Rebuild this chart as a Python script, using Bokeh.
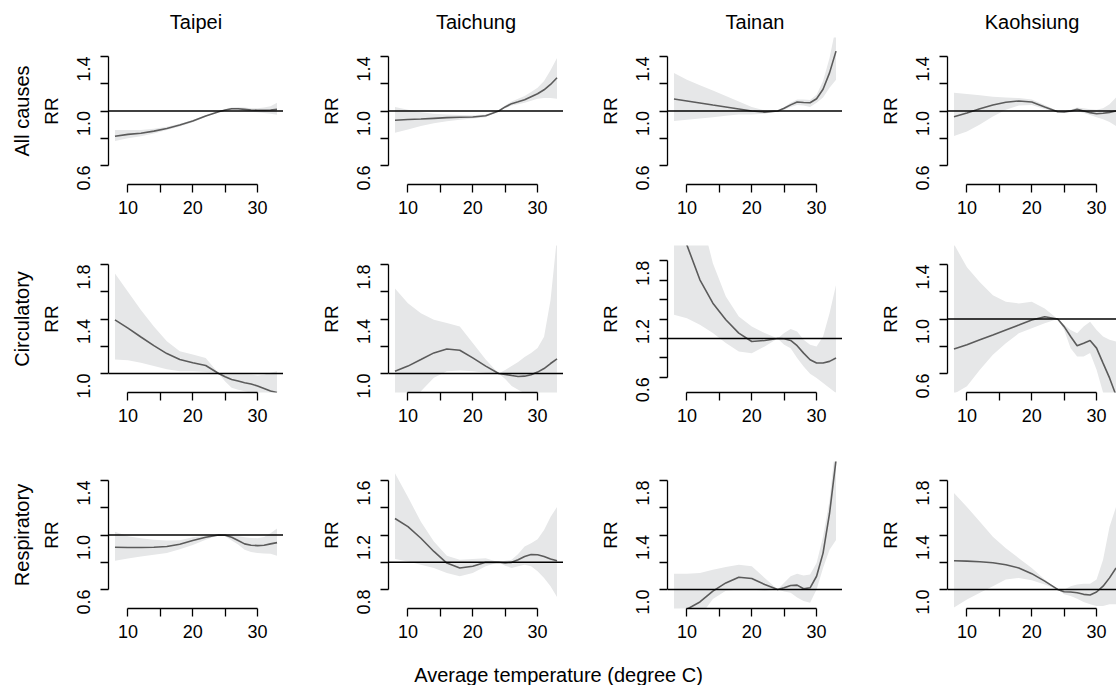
import math
from bokeh.plotting import figure
from bokeh.models import Range1d, FixedTicker, Span, Title
from bokeh.layouts import column, row
from bokeh.embed import file_html
from bokeh.resources import INLINE

# ---------------- data ----------------
TEMP = [8, 10, 12, 14, 16, 18, 20, 22, 24, 25, 26, 27, 28, 29, 30, 31, 32, 33]
CITIES = ["Taipei", "Taichung", "Tainan", "Kaohsiung"]
CAUSES = ["All causes", "Circulatory", "Respiratory"]
X_TICKS = [10, 15, 20, 25, 30]
X_TICK_LABELS = ["10", "", "20", "", "30"]
X_LABEL = "Average temperature (degree C)"
Y_LABEL = "RR"
REF_RR = 1.0

taipei_all_rr = [0.815, 0.828, 0.837, 0.852, 0.872, 0.897, 0.926, 0.963, 0.995, 1.007, 1.017, 1.017, 1.012, 1.007, 1.005, 1.005, 1.007, 1.012]
taipei_all_hi = [0.86, 0.86, 0.86, 0.87, 0.885, 0.907, 0.934, 0.968, 0.997, 1.012, 1.025, 1.028, 1.025, 1.02, 1.02, 1.025, 1.035, 1.06]
taipei_all_lo = [0.78, 0.80, 0.815, 0.835, 0.86, 0.887, 0.918, 0.958, 0.993, 1.002, 1.008, 1.006, 1.0, 0.995, 0.99, 0.985, 0.98, 0.972]

taichung_all_rr = [0.932, 0.937, 0.941, 0.946, 0.951, 0.954, 0.956, 0.965, 1.0, 1.03, 1.054, 1.068, 1.083, 1.105, 1.127, 1.156, 1.195, 1.244]
taichung_all_hi = [1.03, 1.01, 0.99, 0.98, 0.975, 0.97, 0.968, 0.975, 1.0, 1.04, 1.07, 1.09, 1.11, 1.14, 1.17, 1.22, 1.3, 1.39]
taichung_all_lo = [0.84, 0.865, 0.89, 0.91, 0.925, 0.935, 0.944, 0.955, 1.0, 1.02, 1.04, 1.05, 1.06, 1.075, 1.09, 1.095, 1.095, 1.09]

tainan_all_rr = [1.088, 1.074, 1.059, 1.044, 1.03, 1.015, 1.0, 0.992, 1.0, 1.02, 1.045, 1.066, 1.063, 1.061, 1.09, 1.16, 1.28, 1.44]
tainan_all_hi = [1.28, 1.23, 1.19, 1.15, 1.11, 1.07, 1.03, 1.005, 1.0, 1.03, 1.06, 1.085, 1.085, 1.08, 1.12, 1.22, 1.39, 1.62]
tainan_all_lo = [0.926, 0.935, 0.945, 0.955, 0.965, 0.975, 0.975, 0.98, 1.0, 1.01, 1.03, 1.045, 1.04, 1.03, 1.06, 1.1, 1.17, 1.23]

kaohsiung_all_rr = [0.958, 0.985, 1.017, 1.044, 1.064, 1.074, 1.066, 1.03, 0.995, 0.993, 1.0, 1.012, 1.0, 0.988, 0.98, 0.983, 0.99, 1.0]
kaohsiung_all_hi = [1.135, 1.125, 1.115, 1.105, 1.1, 1.095, 1.085, 1.045, 1.0, 0.998, 1.01, 1.025, 1.02, 1.012, 1.01, 1.02, 1.05, 1.1]
kaohsiung_all_lo = [0.816, 0.85, 0.9, 0.96, 1.01, 1.04, 1.045, 1.015, 0.99, 0.988, 0.99, 1.0, 0.985, 0.97, 0.955, 0.94, 0.92, 0.89]

taipei_circ_rr = [1.394, 1.333, 1.268, 1.204, 1.146, 1.102, 1.078, 1.058, 1.0, 0.976, 0.956, 0.944, 0.932, 0.922, 0.908, 0.89, 0.871, 0.859]
taipei_circ_hi = [1.735, 1.6, 1.467, 1.345, 1.236, 1.163, 1.139, 1.114, 1.0, 0.99, 0.993, 0.993, 0.993, 0.99, 0.985, 0.99, 1.005, 1.017]
taipei_circ_lo = [1.102, 1.097, 1.078, 1.054, 1.03, 1.017, 1.017, 1.01, 1.0, 0.94, 0.895, 0.88, 0.87, 0.86, 0.84, 0.82, 0.8, 0.78]

taichung_circ_rr = [1.017, 1.054, 1.102, 1.151, 1.18, 1.17, 1.114, 1.054, 1.0, 0.993, 0.985, 0.978, 0.98, 0.99, 1.01, 1.036, 1.073, 1.107]
taichung_circ_hi = [1.625, 1.516, 1.443, 1.394, 1.37, 1.345, 1.224, 1.102, 1.0, 1.025, 1.054, 1.085, 1.12, 1.15, 1.187, 1.27, 1.54, 2.0]
taichung_circ_lo = [0.6, 0.7, 0.87, 0.968, 1.017, 1.022, 1.017, 1.005, 1.0, 0.96, 0.908, 0.88, 0.855, 0.83, 0.8, 0.78, 0.75, 0.72]

tainan_circ_rr = [2.45, 1.96, 1.603, 1.363, 1.192, 1.055, 0.969, 0.979, 1.0, 0.997, 0.979, 0.925, 0.849, 0.781, 0.747, 0.747, 0.764, 0.798]
tainan_circ_hi = [3.2, 2.9, 2.3, 1.774, 1.432, 1.226, 1.123, 1.055, 1.0, 1.055, 1.096, 1.072, 0.986, 0.935, 0.918, 1.02, 1.26, 1.55]
tainan_circ_lo = [1.243, 1.209, 1.14, 1.055, 0.952, 0.866, 0.849, 0.918, 1.0, 0.935, 0.9, 0.798, 0.712, 0.637, 0.592, 0.541, 0.49, 0.44]

kaohsiung_circ_rr = [0.779, 0.81, 0.847, 0.883, 0.92, 0.956, 0.993, 1.017, 1.0, 0.944, 0.871, 0.803, 0.822, 0.842, 0.786, 0.676, 0.567, 0.44]
kaohsiung_circ_hi = [1.55, 1.38, 1.27, 1.175, 1.127, 1.114, 1.127, 1.078, 1.0, 0.956, 0.92, 0.895, 0.944, 0.98, 0.92, 0.871, 0.847, 0.835]
kaohsiung_circ_lo = [0.45, 0.506, 0.628, 0.737, 0.822, 0.895, 0.932, 0.968, 1.0, 0.92, 0.786, 0.725, 0.725, 0.75, 0.628, 0.46, 0.35, 0.25]

taipei_resp_rr = [0.91, 0.908, 0.908, 0.91, 0.915, 0.932, 0.959, 0.983, 1.0, 0.998, 0.983, 0.959, 0.935, 0.925, 0.922, 0.925, 0.935, 0.944]
taipei_resp_hi = [1.024, 0.99, 0.976, 0.966, 0.959, 0.962, 0.983, 0.995, 1.0, 1.005, 1.0, 0.992, 0.983, 0.978, 0.976, 0.985, 1.012, 1.048]
taipei_resp_lo = [0.811, 0.828, 0.842, 0.855, 0.867, 0.895, 0.927, 0.965, 1.0, 0.99, 0.96, 0.93, 0.891, 0.875, 0.867, 0.865, 0.862, 0.847]

taichung_resp_rr = [1.321, 1.261, 1.176, 1.079, 0.994, 0.958, 0.97, 0.999, 1.0, 0.994, 0.999, 1.018, 1.042, 1.057, 1.055, 1.042, 1.023, 1.011]
taichung_resp_hi = [1.653, 1.479, 1.297, 1.152, 1.047, 1.018, 1.023, 1.03, 1.0, 1.01, 1.018, 1.06, 1.115, 1.139, 1.168, 1.236, 1.333, 1.406]
taichung_resp_lo = [1.023, 1.006, 0.982, 0.958, 0.921, 0.897, 0.921, 0.97, 1.0, 0.975, 0.958, 0.97, 0.982, 0.97, 0.933, 0.885, 0.824, 0.744]

tainan_resp_rr = [0.78, 0.855, 0.908, 0.988, 1.048, 1.09, 1.08, 1.036, 1.0, 1.012, 1.029, 1.032, 1.005, 1.012, 1.097, 1.267, 1.558, 1.95]
tainan_resp_hi = [1.116, 1.116, 1.121, 1.145, 1.165, 1.182, 1.17, 1.085, 1.0, 1.05, 1.097, 1.116, 1.102, 1.109, 1.194, 1.388, 1.655, 2.1]
tainan_resp_lo = [0.6, 0.65, 0.8, 0.93, 0.99, 1.0, 1.0, 0.99, 1.0, 0.985, 0.976, 0.94, 0.915, 0.903, 1.0, 1.158, 1.291, 1.364]

kaohsiung_resp_rr = [1.211, 1.208, 1.204, 1.196, 1.182, 1.158, 1.116, 1.061, 1.0, 0.983, 0.981, 0.976, 0.964, 0.959, 0.981, 1.024, 1.085, 1.158]
kaohsiung_resp_hi = [1.708, 1.606, 1.497, 1.388, 1.303, 1.23, 1.158, 1.073, 1.0, 1.0, 1.024, 1.036, 1.041, 1.041, 1.073, 1.218, 1.461, 1.606]
kaohsiung_resp_lo = [0.867, 0.927, 0.976, 1.024, 1.073, 1.085, 1.068, 1.036, 1.0, 0.965, 0.952, 0.932, 0.908, 0.891, 0.879, 0.879, 0.891, 0.891]

# y-axis settings: (limits, ticks, tick labels)
Y_AXIS_A = ((0.5, 1.5), [0.6, 0.8, 1.0, 1.2, 1.4], ["0.6", "", "1.0", "", "1.4"])
Y_AXIS_B = ((0.9, 1.9), [1.0, 1.2, 1.4, 1.6, 1.8], ["1.0", "", "1.4", "", "1.8"])
Y_AXIS_C = ((0.5, 1.9), [0.6, 0.8, 1.0, 1.2, 1.4, 1.6, 1.8], ["0.6", "", "", "1.2", "", "", "1.8"])
Y_AXIS_D = ((0.7, 1.7), [0.8, 1.0, 1.2, 1.4, 1.6], ["0.8", "", "1.2", "", "1.6"])
X_LIMITS = (8, 33)

PANELS = [
    [(taipei_all_rr, taipei_all_lo, taipei_all_hi, Y_AXIS_A),
     (taichung_all_rr, taichung_all_lo, taichung_all_hi, Y_AXIS_A),
     (tainan_all_rr, tainan_all_lo, tainan_all_hi, Y_AXIS_A),
     (kaohsiung_all_rr, kaohsiung_all_lo, kaohsiung_all_hi, Y_AXIS_A)],
    [(taipei_circ_rr, taipei_circ_lo, taipei_circ_hi, Y_AXIS_B),
     (taichung_circ_rr, taichung_circ_lo, taichung_circ_hi, Y_AXIS_B),
     (tainan_circ_rr, tainan_circ_lo, tainan_circ_hi, Y_AXIS_C),
     (kaohsiung_circ_rr, kaohsiung_circ_lo, kaohsiung_circ_hi, Y_AXIS_A)],
    [(taipei_resp_rr, taipei_resp_lo, taipei_resp_hi, Y_AXIS_A),
     (taichung_resp_rr, taichung_resp_lo, taichung_resp_hi, Y_AXIS_D),
     (tainan_resp_rr, tainan_resp_lo, tainan_resp_hi, Y_AXIS_B),
     (kaohsiung_resp_rr, kaohsiung_resp_lo, kaohsiung_resp_hi, Y_AXIS_B)],
]

# ---------------- style / layout ----------------
FONT = "Liberation Sans"
RIBBON = "#e6e7e8"
CURVE = "#5b5b5b"
FRAME_W = [175, 175, 175, 169]
FRAME_H = 147
BORDER_L = [108, 105, 104, 105]
BORDER_T = [37, 16, 24]
BORDER_B = [45, 45, 45]
TICK_FS = "18px"
LABEL_FS = "19px"
TITLE_FS = "20px"
OUTER_FS = "20px"


def expand(lims, frac=0.04):
    d = (lims[1] - lims[0]) * frac
    return lims[0] - d, lims[1] + d


def style_axis(ax):
    ax.axis_line_color = "black"
    ax.axis_line_width = 1.3
    ax.major_tick_line_color = "black"
    ax.major_tick_line_width = 1.3
    ax.major_tick_out = 8
    ax.major_tick_in = 0
    ax.minor_tick_line_color = None
    ax.major_label_text_font = FONT
    ax.major_label_text_font_size = TICK_FS
    ax.major_label_text_color = "black"


rows = []
for r, cause in enumerate(CAUSES):
    figs = []
    for c, city in enumerate(CITIES):
        rr, lo, hi, (ylims, yticks, ylabels) = PANELS[r][c]
        x0, x1 = expand(X_LIMITS)
        x1 = x0 + (x1 - x0) * FRAME_W[c] / FRAME_W[0]
        y0, y1 = expand(ylims)
        p = figure(frame_width=FRAME_W[c], frame_height=FRAME_H,
                   x_range=Range1d(x0, x1), y_range=Range1d(y0, y1),
                   min_border_left=BORDER_L[c], min_border_right=0,
                   min_border_top=BORDER_T[r], min_border_bottom=BORDER_B[r],
                   toolbar_location=None, output_backend="svg")
        p.outline_line_color = None
        p.grid.visible = False
        p.background_fill_color = "white"
        p.border_fill_color = "white"

        p.varea(x=TEMP, y1=lo, y2=hi, fill_color=RIBBON, fill_alpha=1.0)
        p.line(x=TEMP, y=rr, line_color=CURVE, line_width=1.6)
        p.add_layout(Span(location=REF_RR, dimension="width",
                          line_color="black", line_width=1.6))

        xa = p.xaxis[0]
        style_axis(xa)
        xa.ticker = FixedTicker(ticks=X_TICKS)
        xa.major_label_overrides = dict(zip(X_TICKS, X_TICK_LABELS))
        xa.bounds = (X_TICKS[0], X_TICKS[-1])
        xa.major_label_standoff = 8

        ya = p.yaxis[0]
        style_axis(ya)
        ya.ticker = FixedTicker(ticks=yticks)
        ya.major_label_overrides = dict(zip(yticks, ylabels))
        ya.bounds = (yticks[0], yticks[-1])
        ya.major_label_orientation = math.pi / 2
        ya.major_label_standoff = 17
        ya.axis_label = Y_LABEL
        ya.axis_label_text_font = FONT
        ya.axis_label_text_font_size = LABEL_FS
        ya.axis_label_text_font_style = "normal"
        ya.axis_label_text_color = "black"
        ya.axis_label_standoff = 6

        if r == 0:
            p.title.text = city
            p.title.align = "center"
            p.title.text_font = FONT
            p.title.text_font_size = TITLE_FS
            p.title.text_font_style = "normal"
            p.title.text_color = "black"
            p.title.standoff = 10
        if c == 0:
            p.add_layout(Title(text=cause, align="center", text_font=FONT,
                               text_font_size=OUTER_FS, text_font_style="normal",
                               text_color="black", standoff=10), "left")
        figs.append(p)
    rows.append(row(*figs))

xl = figure(width=1116, height=32, min_border_top=3, min_border_bottom=0,
            min_border_left=0, min_border_right=0,
            x_range=Range1d(0, 1), y_range=Range1d(0, 1),
            toolbar_location=None, output_backend="svg", title_location="below")
xl.axis.visible = False
xl.grid.visible = False
xl.outline_line_color = None
xl.title.text = X_LABEL
xl.title.align = "center"
xl.title.text_font = FONT
xl.title.text_font_size = OUTER_FS
xl.title.text_font_style = "normal"
xl.title.text_color = "black"
xl.title.standoff = 0

layout = column(*rows, xl)
open("out.html", "w").write(file_html(layout, INLINE))
